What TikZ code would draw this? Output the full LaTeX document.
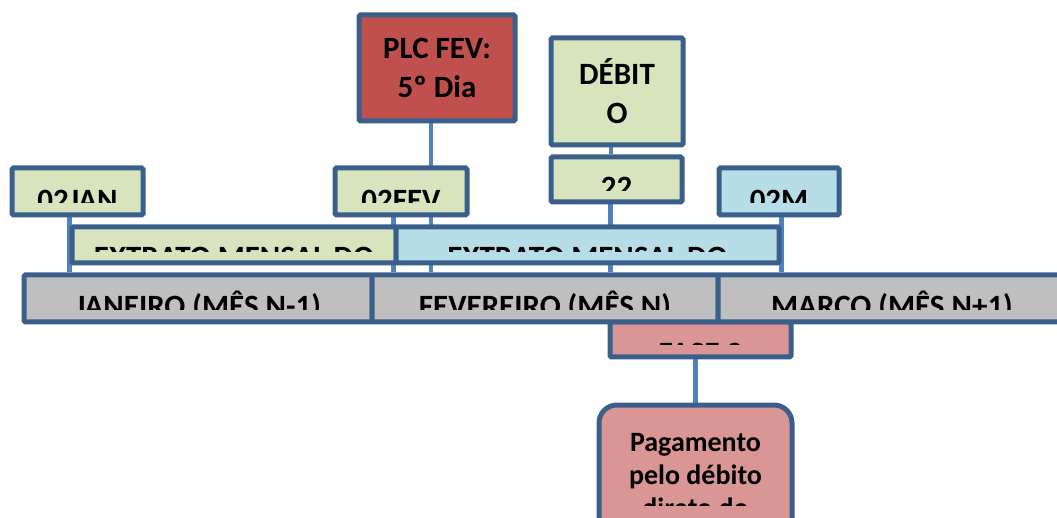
\documentclass[tikz,border=0pt]{standalone}
\usepackage{fontspec}
\setmainfont{Carlito}
\usetikzlibrary{backgrounds}
\definecolor{bord}{HTML}{3A5F8B}
\definecolor{connc}{HTML}{4F81BD}
\definecolor{gfill}{HTML}{D7E4BD}
\definecolor{bfill}{HTML}{B7DEE8}
\definecolor{grfill}{HTML}{BFBFBF}
\definecolor{pfill}{HTML}{D99694}
\definecolor{rfill}{HTML}{C0504D}
\tikzset{
 box/.style={draw=bord, line width=5pt, rounded corners=1.5pt, inner sep=0pt, rectangle,
   font=\fontsize{31}{39}\selectfont\bfseries, align=center},
 link/.style={draw=connc, line width=4.5pt},
 lbl/.style={anchor=base, inner sep=0pt, font=\fontsize{31}{39}\selectfont\bfseries},
}
\newcommand\clippedlabel[8]{\begin{scope}\clip (#2,#3) rectangle (#4,#5); \node[lbl] (#1) at (#6,#7) {#8};\end{scope}}
\begin{document}
\begin{tikzpicture}[x=1pt,y=-1pt]
\useasboundingbox (0,0) rectangle (1057,518);
\clip (0,0) rectangle (1057,518);
% top boxes
\node[box, fill=rfill, minimum width=156pt, minimum height=106pt] (plc) at (437,68) {PLC FEV:\\5º Dia};
\node[box, fill=gfill, minimum width=132pt, minimum height=107pt] (debito) at (617,91.5) {DÉBIT\\O};
\node[box, fill=gfill, minimum width=131pt, minimum height=45pt] (d22) at (616.5,179.5) {};
\node[box, fill=gfill, minimum width=131pt, minimum height=47pt] (jan02) at (77.5,191.5) {};
\node[box, fill=gfill, minimum width=132pt, minimum height=47pt] (fev02) at (401,191.5) {};
\node[box, fill=bfill, minimum width=120pt, minimum height=47pt] (mar02) at (779,191.5) {};
% extrato
\node[box, fill=gfill, minimum width=324pt, minimum height=36pt] (ext1) at (234,245) {};
\node[box, fill=bfill, minimum width=383pt, minimum height=36pt] (ext2) at (587.5,245) {};
% fase + pagamento
\node[box, fill=pfill, minimum width=181pt, minimum height=35pt] (fase) at (700.5,339.5) {};
\node[box, fill=pfill, rounded corners=18pt, minimum width=193pt, minimum height=135pt] (pag) at (695.5,472.5) {};
% months bar
\node[box, fill=grfill, minimum width=348pt, minimum height=47pt] (jan) at (198,298.5) {};
\node[box, fill=grfill, minimum width=346pt, minimum height=47pt] (fev) at (545,298.5) {};
\node[box, fill=grfill, minimum width=348pt, minimum height=47pt] (mar) at (892,298.5) {};
% clipped texts
\clippedlabel{tjan02}{14}{170}{141}{203}{77.5}{211}{02JAN}
\clippedlabel{tfev02}{337}{170}{465}{203}{401}{211}{02FEV}
\clippedlabel{tmar02}{721}{170}{837}{203}{779}{211}{02M}
\clippedlabel{td22}{553}{159}{680}{191}{616.5}{198}{22}
\clippedlabel{text1}{74}{229}{394}{252}{234}{268}{EXTRATO MENSAL DO}
\clippedlabel{text2}{398}{229}{777}{252}{587.5}{268}{EXTRATO MENSAL DO}
\clippedlabel{tjan}{26}{277}{370}{310}{198}{317}{JANEIRO (MÊS N-1)}
\clippedlabel{tfev}{374}{277}{716}{310}{545}{317}{FEVEREIRO (MÊS N)}
\clippedlabel{tmar}{720}{277}{1057}{310}{892}{317}{MARÇO (MÊS N+1)}
\clippedlabel{tfase}{612}{324}{789}{345}{700.5}{363}{FASE 2}
\begin{scope}
\clip (601,407) rectangle (790,505);
\node[anchor=north, inner sep=0pt, align=center, font=\fontsize{28}{33}\selectfont\bfseries] (tpag) at (695.5,433) {Pagamento\\pelo débito\\direto do};
\end{scope}
% connectors
\begin{pgfonlayer}{background}
\draw[link] (jan02.south -| ext1.west) -- (jan.north -| ext1.west);
\draw[link] (fev02.south -| ext2.west) -- (fev.north -| ext2.west);
\draw[link] ([xshift=-6pt]plc.south) -- ([xshift=-6pt]plc.south |- fev.north);
\draw[link] ([xshift=-6pt]debito.south) -- ([xshift=-6pt]debito.south |- d22.north);
\draw[link] ([xshift=-6pt]d22.south) -- ([xshift=-6pt]d22.south |- fev.north);
\draw[link] (mar02.south -| ext2.east) -- (mar.north -| ext2.east);
\draw[link] (fase.south -| pag.north) -- (pag.north);
\end{pgfonlayer}
\end{tikzpicture}
\end{document}
